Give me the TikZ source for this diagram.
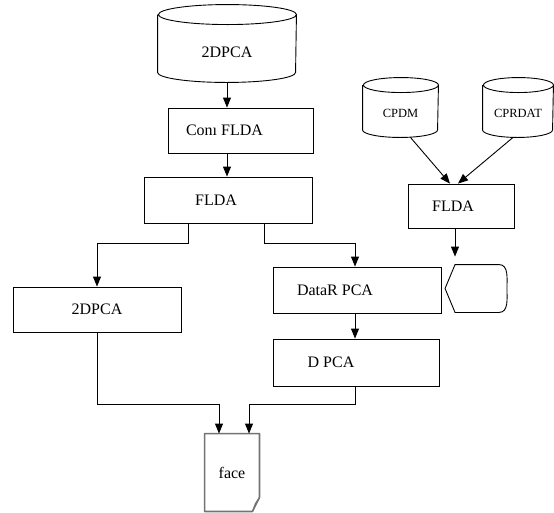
\documentclass[tikz,border=0pt]{standalone}
\usepackage{fontspec}
\setmainfont{Liberation Serif}
\usetikzlibrary{arrows.meta}

% drum outline around a node: #1 node, #2 half width, #3 cap radius
\newcommand\drum[3]{%
	\draw ([yshift=-#3]#1.north west) -- ([yshift=#3]#1.south west)
		arc[start angle=180, end angle=360, x radius=#2, y radius=#3]
		-- ([yshift=-#3]#1.north east)
		arc[start angle=0, end angle=360, x radius=#2, y radius=#3];}

\begin{document}
\begin{tikzpicture}[x=1pt,y=-1pt,line width=0.9pt,
	font=\fontsize{16}{18}\selectfont,
	>={Triangle[length=10pt,width=8pt]},
	box/.style={draw, minimum width=#1, minimum height=46pt, inner sep=0pt},
	hidden/.style={minimum width=#1, inner sep=0pt},
	docline/.style={draw=black!55, line width=1.6pt, line join=round}]
	\useasboundingbox (0,0) rectangle (554,512);

	% main chain
	\node[hidden=138pt, minimum height=77pt, label={[yshift=-9pt]center:2DPCA}] (db) at (227,43.5) {};
	\drum{db}{69pt}{10pt}
	\node[box=145pt, minimum height=45pt, label={[xshift=-16pt]center:Con\i\ FLDA}] (conn) at (240.5,130.5) {};
	\node[box=168pt, label={[xshift=-12pt]center:FLDA}] (flda) at (228,200) {};
	\node[box=168pt, minimum height=45pt] (pcaleft) at (97,309.5) {2DPCA};
	\node[box=168pt, label={[xshift=-22pt]center:DataR PCA}] (datar) at (357,290) {};
	\node[box=166pt, minimum height=47pt, label={[xshift=-25pt]center:D PCA}] (dpca) at (356,362.5) {};
	\node[hidden=54pt, minimum height=77pt] (face) at (232,472.5) {face};
	\draw[docline] (face.north west) -- (face.north east) -- ([yshift=14pt]face.south east)
		-- ([xshift=-7pt]face.south east) -- (face.south west) -- cycle;
	\draw[docline, line width=1.1pt] ([yshift=14pt]face.south east) -- ([xshift=-4pt,yshift=8pt]face.south east)
		-- ([xshift=-7pt]face.south east);

	\draw[->] (db.south) -- (db.south |- conn.north);
	\draw[->] (db.south |- conn.south) -- (db.south |- flda.north);
	\draw[->] ([xshift=-40pt]flda.south) -- ++(0,20) -| (pcaleft.north);
	\draw[->] ([xshift=36pt]flda.south) -- ++(0,20) -| ([xshift=-2pt]datar.north);
	\draw[->] ([xshift=-2pt]datar.south) -- ([xshift=-2pt]datar.south |- dpca.north);
	\draw[->] (pcaleft.south) -- ++(0,72) -| ([xshift=-13pt]face.north);
	\draw[->] ([xshift=-1pt]dpca.south) -- ++(0,18) -| ([xshift=17pt]face.north);

	% second part
	\begin{scope}[font=\fontsize{12.5}{14}\selectfont]
	\node[hidden=75pt, minimum height=59pt, label={[yshift=-6pt]center:CPDM}] (cpdm) at (400.5,107.5) {};
	\node[hidden=70pt, minimum height=59pt, label={[yshift=-6pt]center:CPRDAT}] (cprdat) at (518,107.5) {};
	\end{scope}
	\drum{cpdm}{37.5pt}{7.5pt}
	\drum{cprdat}{35pt}{7.5pt}
	\node[box=106pt, minimum height=44pt, label={[xshift=-8pt]center:FLDA}] (fldb) at (461,206) {};
	\node[hidden=61pt, minimum height=47pt] (show) at (476,288.5) {};
	\draw (show.west) -- ([xshift=10pt]show.north west) -- ([xshift=-8pt]show.north east)
		to[out=0,in=90] (show.east) to[out=-90,in=0] ([xshift=-8pt]show.south east)
		-- ([xshift=10pt]show.south west) -- cycle;

	\draw[->] ([xshift=10pt]cpdm.south) -- ([xshift=-11pt]fldb.north);
	\draw[->] ([xshift=-5pt]cprdat.south) -- ([xshift=-3pt]fldb.north);
	\draw[->] ([xshift=-6pt]fldb.south) -- ([xshift=-21pt,yshift=8pt]show.north);
\end{tikzpicture}
\end{document}
